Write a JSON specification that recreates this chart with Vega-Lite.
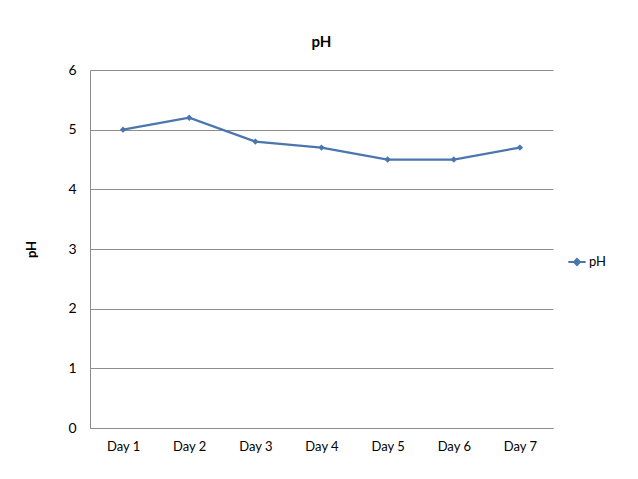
{
  "$schema": "https://vega.github.io/schema/vega-lite/v6.json",
  "width": 463,
  "height": 358,
  "autosize": {"type": "none"},
  "padding": {"left": 90, "top": 70, "right": 85, "bottom": 51},
  "background": "white",
  "title": {"text": "pH", "font": "Lato", "fontSize": 15, "fontWeight": "bold", "color": "#000000", "offset": 13, "anchor": "middle"},
  "config": {
    "view": {"stroke": null},
    "font": "Lato"
  },
  "data": {
    "values": [
      {"day": "Day 1", "pH": 5.0, "series": "pH"},
      {"day": "Day 2", "pH": 5.2, "series": "pH"},
      {"day": "Day 3", "pH": 4.8, "series": "pH"},
      {"day": "Day 4", "pH": 4.7, "series": "pH"},
      {"day": "Day 5", "pH": 4.5, "series": "pH"},
      {"day": "Day 6", "pH": 4.5, "series": "pH"},
      {"day": "Day 7", "pH": 4.7, "series": "pH"}
    ]
  },
  "encoding": {
    "x": {
      "field": "day", "type": "ordinal", "sort": null,
      "scale": {"type": "point", "padding": 0.5},
      "axis": {"title": null, "labelAngle": 0, "labelFont": "Lato", "labelFontSize": 13, "labelColor": "#000000", "labelPadding": 12, "ticks": false, "grid": false, "domainColor": "#8c8c8c", "domainWidth": 1}
    },
    "y": {
      "field": "pH", "type": "quantitative",
      "scale": {"domain": [0, 6], "nice": false, "zero": true},
      "axis": {"title": "pH", "titleFont": "Lato", "titleFontSize": 13, "titleFontWeight": "bold", "titleColor": "#000000", "titleX": -52, "titleY": 179, "titleAngle": -90, "values": [0, 1, 2, 3, 4, 5, 6], "labelOverlap": false, "labelFont": "Lato", "labelFontSize": 14, "labelColor": "#000000", "labelPadding": 14, "ticks": false, "grid": true, "gridColor": "#8c8c8c", "gridWidth": 1, "domainColor": "#8c8c8c", "domainWidth": 1}
    },
    "color": {
      "field": "series", "type": "nominal",
      "scale": {"range": ["#4a76ad"]},
      "legend": {"title": null, "orient": "none", "legendX": 477, "legendY": 182, "labelFont": "Lato", "labelFontSize": 13, "labelColor": "#000000", "symbolType": "M-1,0H1M0,-0.35L0.35,0L0,0.35L-0.35,0Z", "symbolSize": 300, "symbolStrokeWidth": 2, "symbolFillColor": "#4a76ad", "symbolStrokeColor": "#4a76ad", "labelOffset": 2}
    }
  },
  "layer": [
    {"mark": {"type": "line", "strokeWidth": 2.25}},
    {"mark": {"type": "point", "shape": "diamond", "filled": true, "size": 40, "opacity": 1}}
  ]
}
